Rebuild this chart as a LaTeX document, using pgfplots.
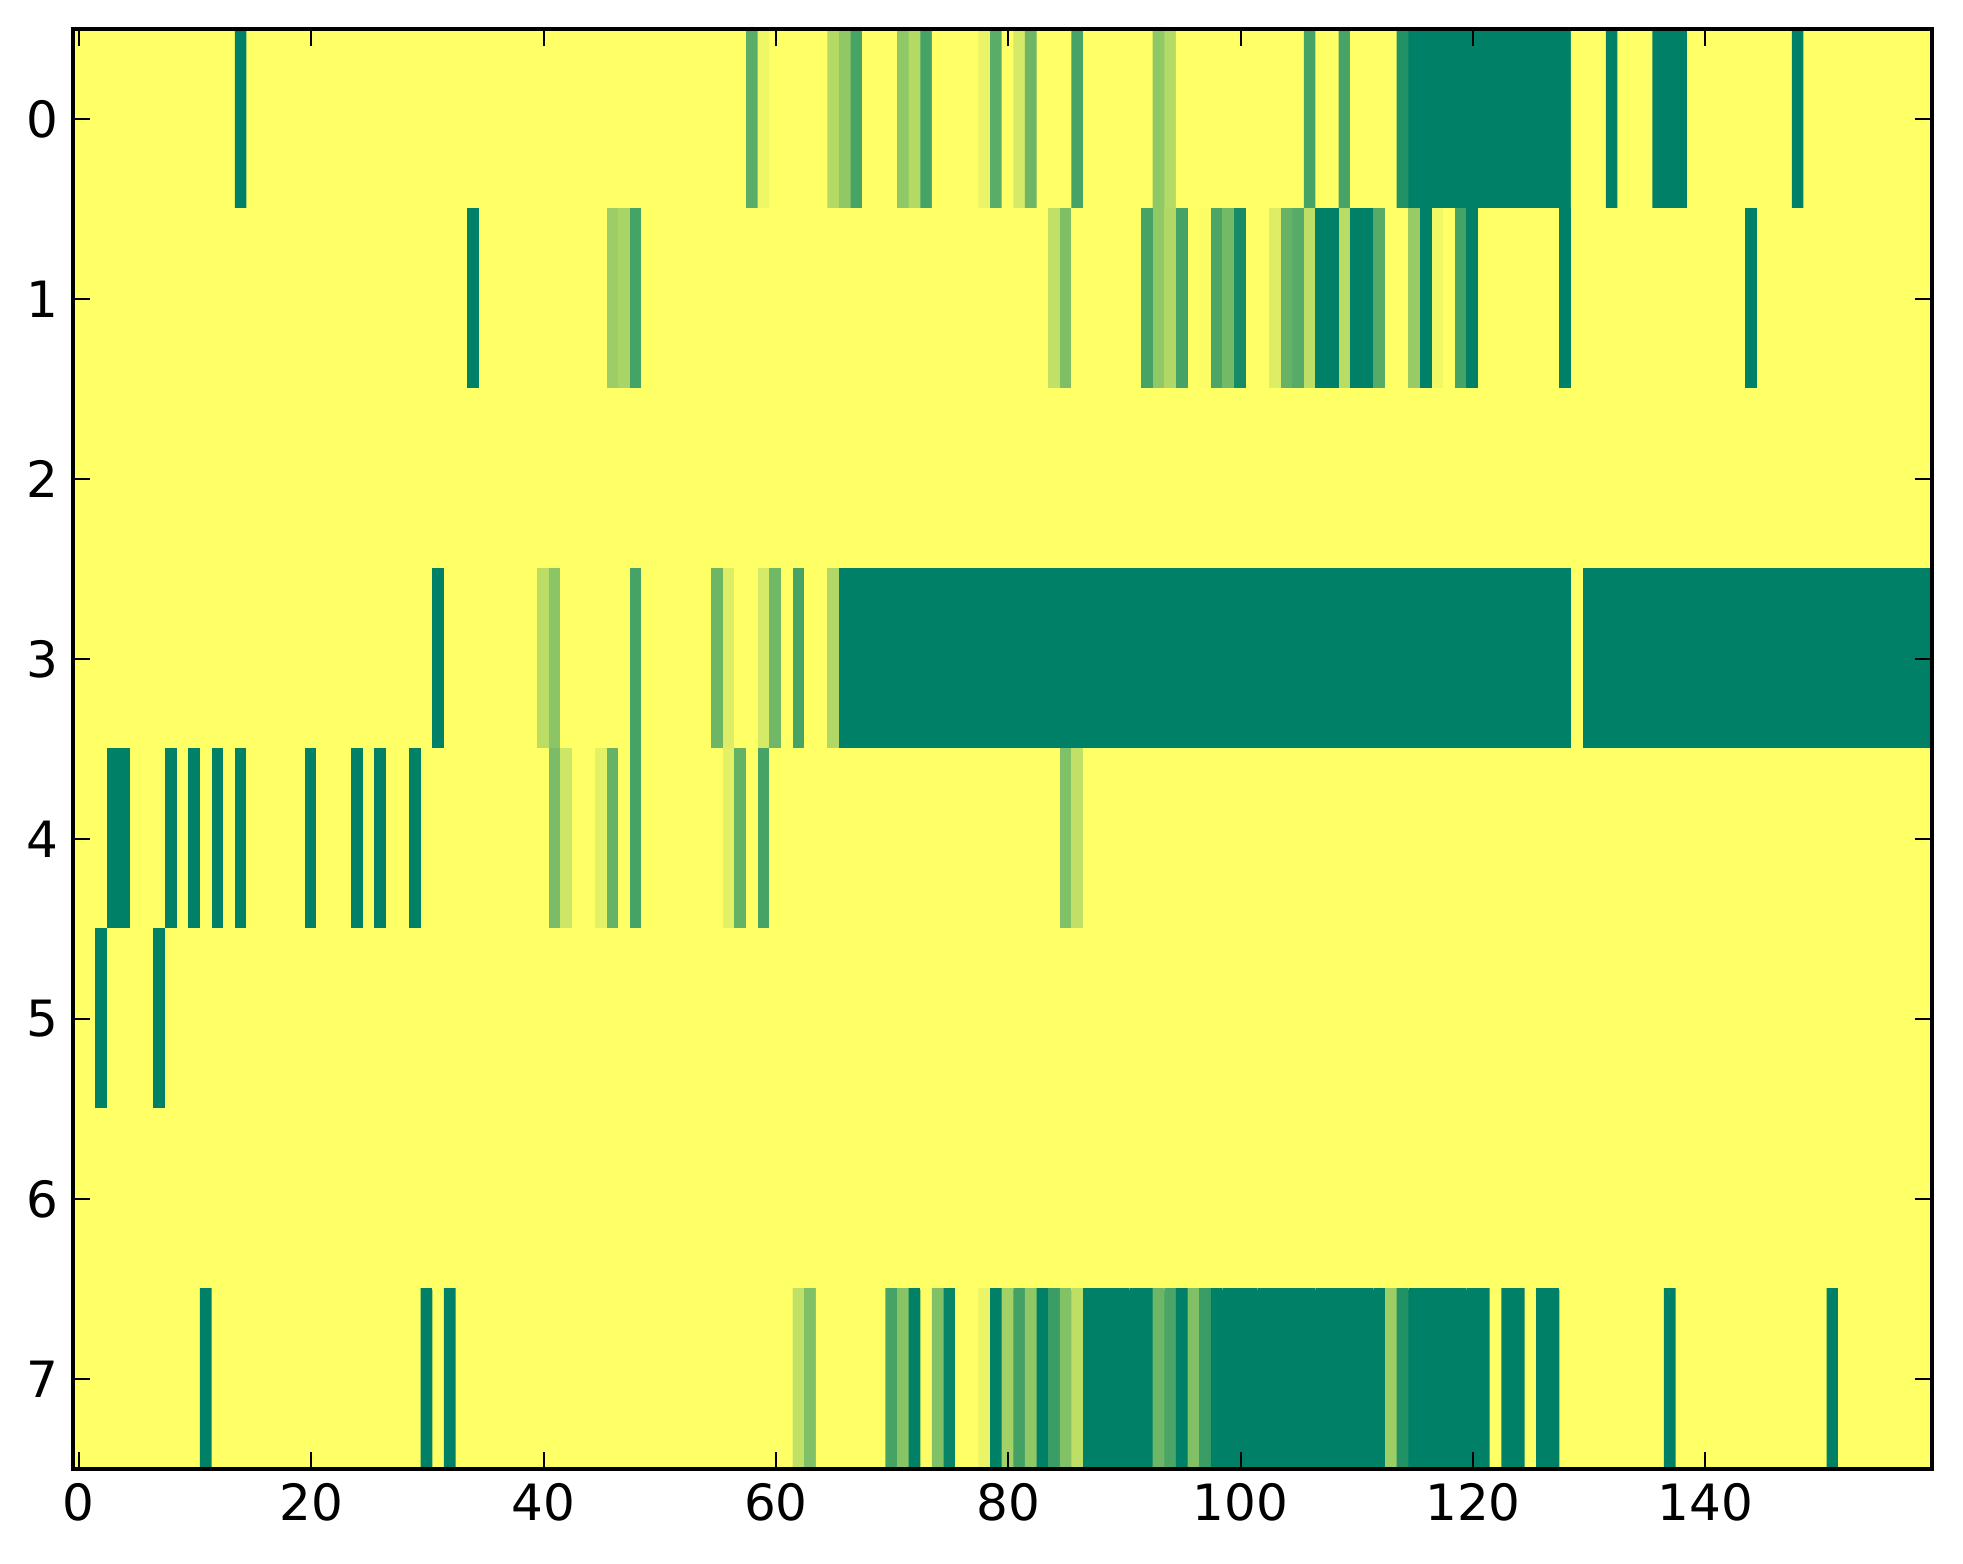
\documentclass[border=0pt]{standalone}
\usepackage{pgfplots}
\pgfplotsset{compat=1.18}
\usepackage{fontspec}
\setmainfont{DejaVu Sans}
\begin{document}
\begin{tikzpicture}
\path[use as bounding box] (-17.52pt,-22.8pt) rectangle (453.64pt,352.56pt);
\begin{axis}[
  at={(0,0)}, anchor=south west,
  scale only axis, width=446.2pt, height=345.6pt,
  xmin=-0.5, xmax=159.5, ymin=-0.5, ymax=7.5, y dir=reverse,
  xtick={0,20,...,140}, ytick={0,1,...,7},
  tick align=inside, major tick length=4pt,
  tick style={black, line width=0.5pt},
  axis line style={line width=1pt},
  tick label style={font=\fontsize{12}{14.4}\selectfont},
  /pgf/number format/assume math mode=true,
  colormap={summer}{rgb255=(0,128,102) rgb255=(255,255,102)},
  point meta min=0, point meta max=1,
  axis on top,
  enlargelimits=false,
]
\addplot[matrix plot*, mesh/cols=160, mesh/rows=8, point meta=\thisrowno{0}]
table[header=false, row sep=\\, x expr={mod(\coordindex,160)}, y expr={floor(\coordindex/160)}] {
1\\1\\1\\1\\1\\ 1\\1\\1\\1\\1\\ 1\\1\\1\\1\\0\\ 1\\1\\1\\1\\1\\
1\\1\\1\\1\\1\\ 1\\1\\1\\1\\1\\ 1\\1\\1\\1\\1\\ 1\\1\\1\\1\\1\\
1\\1\\1\\1\\1\\ 1\\1\\1\\1\\1\\ 1\\1\\1\\1\\1\\ 1\\1\\1\\0.35\\0.93\\
1\\1\\1\\1\\1\\ 0.70\\0.56\\0.27\\1\\1\\ 1\\0.56\\0.70\\0.27\\1\\ 1\\1\\1\\0.91\\0.35\\
1\\0.83\\0.42\\1\\1\\ 1\\0.27\\1\\1\\1\\ 1\\1\\1\\0.56\\0.70\\ 1\\1\\1\\1\\1\\
1\\1\\1\\1\\1\\ 1\\0.27\\1\\1\\0.28\\ 1\\1\\1\\1\\0.13\\ 0\\0\\0\\0\\0\\
0\\0\\0\\0\\0\\ 0\\0\\0\\0\\1\\ 1\\1\\0\\1\\1\\ 1\\0\\0\\0\\1\\
1\\1\\1\\1\\1\\ 1\\1\\1\\0\\1\\ 1\\1\\1\\1\\1\\ 1\\1\\1\\1\\1\\
1\\1\\1\\1\\1\\ 1\\1\\1\\1\\1\\ 1\\1\\1\\1\\1\\ 1\\1\\1\\1\\1\\
1\\1\\1\\1\\1\\ 1\\1\\1\\1\\1\\ 1\\1\\1\\1\\0\\ 1\\1\\1\\1\\1\\
1\\1\\1\\1\\1\\ 1\\0.61\\0.66\\0.27\\1\\ 1\\1\\1\\1\\1\\ 1\\1\\1\\1\\1\\
1\\1\\1\\1\\1\\ 1\\1\\1\\1\\1\\ 1\\1\\1\\1\\1\\ 1\\1\\1\\1\\1\\
1\\1\\1\\1\\0.75\\ 0.49\\1\\1\\1\\1\\ 1\\1\\0.27\\0.56\\0.69\\ 0.27\\1\\0.98\\0.29\\0.45\\
0.09\\1\\1\\0.86\\0.40\\ 0.34\\0.74\\0\\0\\0.72\\ 0\\0\\0.34\\1\\1\\ 0.59\\0\\0.94\\1\\0.27\\
0\\1\\1\\1\\1\\ 1\\1\\1\\0\\1\\ 1\\1\\1\\1\\1\\ 1\\1\\1\\1\\1\\
1\\1\\1\\1\\0\\ 1\\1\\1\\1\\1\\ 1\\1\\1\\1\\1\\ 1\\1\\1\\1\\1\\
1\\1\\1\\1\\1\\ 1\\1\\1\\1\\1\\ 1\\1\\1\\1\\1\\ 1\\1\\1\\1\\1\\
1\\1\\1\\1\\1\\ 1\\1\\1\\1\\1\\ 1\\1\\1\\1\\1\\ 1\\1\\1\\1\\1\\
1\\1\\1\\1\\1\\ 1\\1\\1\\1\\1\\ 1\\1\\1\\1\\1\\ 1\\1\\1\\1\\1\\
1\\1\\1\\1\\1\\ 1\\1\\1\\1\\1\\ 1\\1\\1\\1\\1\\ 1\\1\\1\\1\\1\\
1\\1\\1\\1\\1\\ 1\\1\\1\\1\\1\\ 1\\1\\1\\1\\1\\ 1\\1\\1\\1\\1\\
1\\1\\1\\1\\1\\ 1\\1\\1\\1\\1\\ 1\\1\\1\\1\\1\\ 1\\1\\1\\1\\1\\
1\\1\\1\\1\\1\\ 1\\1\\1\\1\\1\\ 1\\1\\1\\1\\1\\ 1\\1\\1\\1\\1\\
1\\1\\1\\1\\1\\ 1\\1\\1\\1\\1\\ 1\\1\\1\\1\\1\\ 1\\1\\1\\1\\1\\
1\\1\\1\\1\\1\\ 1\\1\\1\\1\\1\\ 1\\1\\1\\1\\1\\ 1\\1\\1\\1\\1\\
1\\1\\1\\1\\1\\ 1\\1\\1\\1\\1\\ 1\\0\\1\\1\\1\\ 1\\1\\1\\1\\1\\
0.73\\0.54\\1\\1\\1\\ 1\\1\\1\\0.27\\1\\ 1\\1\\1\\1\\1\\ 0.42\\0.86\\1\\1\\0.83\\
0.44\\1\\0.27\\1\\1\\ 0.69\\0\\0\\0\\0\\ 0\\0\\0\\0\\0\\ 0\\0\\0\\0\\0\\
0\\0\\0\\0\\0\\ 0\\0\\0\\0\\0\\ 0\\0\\0\\0\\0\\ 0\\0\\0\\0\\0\\
0\\0\\0\\0\\0\\ 0\\0\\0\\0\\0\\ 0\\0\\0\\0\\0\\ 0\\0\\0\\0\\0\\
0\\0\\0\\0\\0\\ 0\\0\\0\\0\\1\\ 0\\0\\0\\0\\0\\ 0\\0\\0\\0\\0\\
0\\0\\0\\0\\0\\ 0\\0\\0\\0\\0\\ 0\\0\\0\\0\\0\\ 0\\0\\0\\0\\0\\
1\\1\\1\\0\\0\\ 1\\1\\1\\0\\1\\ 0\\1\\0\\1\\0\\ 1\\1\\1\\1\\1\\
0\\1\\1\\1\\0\\ 1\\0\\1\\1\\0\\ 1\\1\\1\\1\\1\\ 1\\1\\1\\1\\1\\
1\\0.48\\0.80\\1\\1\\ 0.88\\0.40\\1\\0.27\\1\\ 1\\1\\1\\1\\1\\ 1\\0.88\\0.39\\1\\0.27\\
1\\1\\1\\1\\1\\ 1\\1\\1\\1\\1\\ 1\\1\\1\\1\\1\\ 1\\1\\1\\1\\1\\
1\\1\\1\\1\\1\\ 0.50\\0.75\\1\\1\\1\\ 1\\1\\1\\1\\1\\ 1\\1\\1\\1\\1\\
1\\1\\1\\1\\1\\ 1\\1\\1\\1\\1\\ 1\\1\\1\\1\\1\\ 1\\1\\1\\1\\1\\
1\\1\\1\\1\\1\\ 1\\1\\1\\1\\1\\ 1\\1\\1\\1\\1\\ 1\\1\\1\\1\\1\\
1\\1\\1\\1\\1\\ 1\\1\\1\\1\\1\\ 1\\1\\1\\1\\1\\ 1\\1\\1\\1\\1\\
1\\1\\0\\1\\1\\ 1\\1\\0\\1\\1\\ 1\\1\\1\\1\\1\\ 1\\1\\1\\1\\1\\
1\\1\\1\\1\\1\\ 1\\1\\1\\1\\1\\ 1\\1\\1\\1\\1\\ 1\\1\\1\\1\\1\\
1\\1\\1\\1\\1\\ 1\\1\\1\\1\\1\\ 1\\1\\1\\1\\1\\ 1\\1\\1\\1\\1\\
1\\1\\1\\1\\1\\ 1\\1\\1\\1\\1\\ 1\\1\\1\\1\\1\\ 1\\1\\1\\1\\1\\
1\\1\\1\\1\\1\\ 1\\1\\1\\1\\1\\ 1\\1\\1\\1\\1\\ 1\\1\\1\\1\\1\\
1\\1\\1\\1\\1\\ 1\\1\\1\\1\\1\\ 1\\1\\1\\1\\1\\ 1\\1\\1\\1\\1\\
1\\1\\1\\1\\1\\ 1\\1\\1\\1\\1\\ 1\\1\\1\\1\\1\\ 1\\1\\1\\1\\1\\
1\\1\\1\\1\\1\\ 1\\1\\1\\1\\1\\ 1\\1\\1\\1\\1\\ 1\\1\\1\\1\\1\\
1\\1\\1\\1\\1\\ 1\\1\\1\\1\\1\\ 1\\1\\1\\1\\1\\ 1\\1\\1\\1\\1\\
1\\1\\1\\1\\1\\ 1\\1\\1\\1\\1\\ 1\\1\\1\\1\\1\\ 1\\1\\1\\1\\1\\
1\\1\\1\\1\\1\\ 1\\1\\1\\1\\1\\ 1\\1\\1\\1\\1\\ 1\\1\\1\\1\\1\\
1\\1\\1\\1\\1\\ 1\\1\\1\\1\\1\\ 1\\1\\1\\1\\1\\ 1\\1\\1\\1\\1\\
1\\1\\1\\1\\1\\ 1\\1\\1\\1\\1\\ 1\\1\\1\\1\\1\\ 1\\1\\1\\1\\1\\
1\\1\\1\\1\\1\\ 1\\1\\1\\1\\1\\ 1\\1\\1\\1\\1\\ 1\\1\\1\\1\\1\\
1\\1\\1\\1\\1\\ 1\\1\\1\\1\\1\\ 1\\1\\1\\1\\1\\ 1\\1\\1\\1\\1\\
1\\1\\1\\1\\1\\ 1\\1\\1\\1\\1\\ 1\\1\\1\\1\\1\\ 1\\1\\1\\1\\1\\
1\\1\\1\\1\\1\\ 1\\1\\1\\1\\1\\ 1\\0\\1\\1\\1\\ 1\\1\\1\\1\\1\\
1\\1\\1\\1\\1\\ 1\\1\\1\\1\\1\\ 0\\1\\0\\1\\1\\ 1\\1\\1\\1\\1\\
1\\1\\1\\1\\1\\ 1\\1\\1\\1\\1\\ 1\\1\\1\\1\\1\\ 1\\1\\1\\1\\1\\
1\\1\\0.75\\0.50\\1\\ 1\\1\\1\\1\\1\\ 0.27\\0.53\\0\\0.98\\0.50\\ 0.03\\1\\1\\0.91\\0\\
0.63\\0.26\\0.56\\0\\0.23\\ 0.51\\0.74\\0\\0\\0\\ 0\\0\\0\\0.42\\0.29\\ 0\\0.50\\0.23\\0\\0\\
0\\0\\0\\0\\0\\ 0\\0\\0\\0\\0\\ 0\\0\\0\\0.61\\0.13\\ 0\\0\\0\\0\\0\\
0\\0\\1\\0\\0\\ 1\\0\\0\\1\\1\\ 1\\1\\1\\1\\1\\ 1\\1\\0\\1\\1\\
1\\1\\1\\1\\1\\ 1\\1\\1\\1\\1\\ 1\\0\\1\\1\\1\\ 1\\1\\1\\1\\1\\
};
\end{axis}
\end{tikzpicture}
\end{document}
